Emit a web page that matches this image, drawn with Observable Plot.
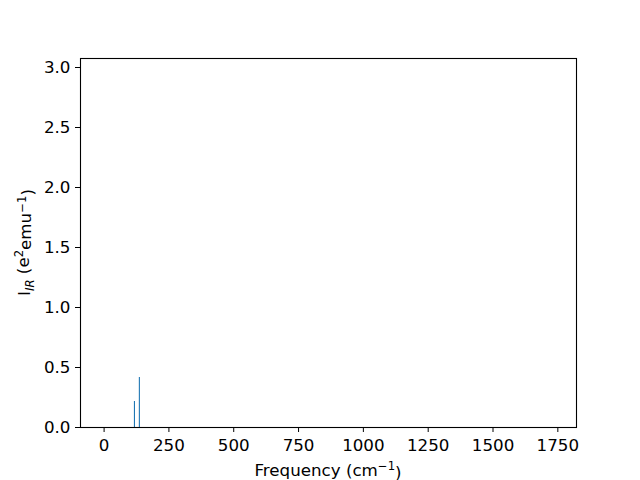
<!DOCTYPE html>
<html>
<head>
<meta charset="utf-8">
<script src="https://cdn.jsdelivr.net/npm/d3@7"></script>
<script src="https://cdn.jsdelivr.net/npm/@observablehq/plot@0.6"></script>
<style>
  html, body { margin: 0; padding: 0; background: #fff; }
  svg { display: block; }
</style>
</head>
<body>
<div id="chart"></div>
<script>
// Data
const frequencies = [119, 138];          // cm^-1
const intensities = [0.217, 0.417];      // e^2 emu^-1
const xTicks = [0, 250, 500, 750, 1000, 1250, 1500, 1750];
const yTicks = [0, 0.5, 1.0, 1.5, 2.0, 2.5, 3.0];

const data = frequencies.map((f, i) => ({freq: f, intensity: intensities[i]}));

const font = "DejaVu Sans, sans-serif";
const fs = 16.7;
const ss = 11.7;

const chart = Plot.plot({
  width: 640,
  height: 480,
  marginLeft: 80,
  marginRight: 64,
  marginTop: 58,
  marginBottom: 53,
  style: {fontFamily: font, fontSize: fs + "px", color: "black", background: "white"},
  x: {domain: [-91, 1822]},
  y: {domain: [0, 3.075]},
  marks: [
    Plot.ruleX(data, {x: "freq", y1: 0, y2: "intensity", stroke: "#1f77b4", strokeWidth: 1.1, dx: -0.5}),
    Plot.frame({stroke: "black", strokeWidth: 1.1}),
    Plot.axisX(xTicks, {tickSize: 5, tickPadding: 7, fontSize: fs, tickFormat: d => String(d), label: null, stroke: "black", fill: "black"}),
    Plot.axisY(yTicks, {tickSize: 5, tickPadding: 5, fontSize: fs, tickFormat: d => d.toFixed(1), label: null, stroke: "black", fill: "black"})
  ]
});

document.getElementById("chart").appendChild(chart);

const svg = d3.select(chart);
// X axis label
const xl = svg.append("text")
  .attr("x", (80 + 576) / 2)
  .attr("y", 475.5)
  .attr("text-anchor", "middle")
  .attr("font-family", font)
  .attr("font-size", fs + "px")
  .attr("fill", "black");
xl.append("tspan").text("Frequency (cm");
xl.append("tspan").attr("dy", "-0.45em").attr("font-size", ss + "px").text("\u22121");
xl.append("tspan").attr("dy", "0.45em").text(")");

// Y axis label
const yl = svg.append("text")
  .attr("transform", `translate(30,${(58 + 427) / 2}) rotate(-90)`)
  .attr("text-anchor", "middle")
  .attr("font-family", font)
  .attr("font-size", fs + "px")
  .attr("fill", "black");
yl.append("tspan").text("I");
yl.append("tspan").attr("dy", "0.3em").attr("font-size", ss + "px").attr("font-style", "italic").text("IR");
yl.append("tspan").attr("dy", "-0.3em").text(" (e");
yl.append("tspan").attr("dy", "-0.45em").attr("font-size", ss + "px").text("2");
yl.append("tspan").attr("dy", "0.45em").text("emu");
yl.append("tspan").attr("dy", "-0.45em").attr("font-size", ss + "px").text("\u22121");
yl.append("tspan").attr("dy", "0.45em").text(")");
</script>
</body>
</html>
